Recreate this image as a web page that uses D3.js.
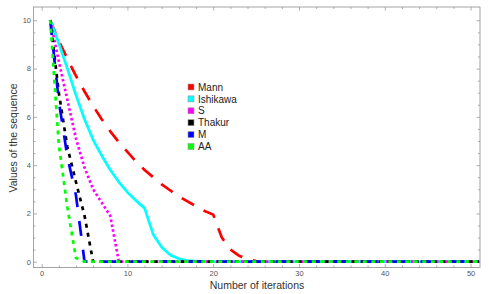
<!DOCTYPE html>
<html>
<head>
<meta charset="utf-8">
<script src="https://cdn.jsdelivr.net/npm/d3@7"></script>
<style>
  body { margin: 0; background: #fff; }
  svg { display: block; font-family: "Liberation Sans", Arial, sans-serif; }
</style>
</head>
<body>
<div class="container"></div>
<script>
// iterations 1..51
var iterations = d3.range(1, 52);

var mann = [10, 9.15, 8.4, 7.7, 7.05, 6.45, 5.9, 5.4, 4.95, 4.55,
	4.15, 3.8, 3.5, 3.2, 2.95, 2.7, 2.5, 2.3, 2.1, 1.95,
	1.0, 0.5, 0.25, 0.1, 0.03, 0, 0, 0, 0, 0,
	0, 0, 0, 0, 0, 0, 0, 0, 0, 0,
	0, 0, 0, 0, 0, 0, 0, 0, 0, 0, 0];
var ishikawa = [10, 9.05, 8.0, 6.9, 5.9, 5.05, 4.4, 3.8, 3.3, 2.88,
	2.53, 2.22, 1.13, 0.6, 0.28, 0.12, 0.05, 0.02, 0.01, 0,
	0, 0, 0, 0, 0, 0, 0, 0, 0, 0,
	0, 0, 0, 0, 0, 0, 0, 0, 0, 0,
	0, 0, 0, 0, 0, 0, 0, 0, 0, 0, 0];
var sIter = [10, 8.3, 6.7, 5.1, 3.9, 3.0, 2.45, 1.9, 0, 0,
	0, 0, 0, 0, 0, 0, 0, 0, 0, 0,
	0, 0, 0, 0, 0, 0, 0, 0, 0, 0,
	0, 0, 0, 0, 0, 0, 0, 0, 0, 0,
	0, 0, 0, 0, 0, 0, 0, 0, 0, 0, 0];
var thakur = [10, 7.0, 4.75, 3.3, 1.9, 0, 0, 0, 0, 0,
	0, 0, 0, 0, 0, 0, 0, 0, 0, 0,
	0, 0, 0, 0, 0, 0, 0, 0, 0, 0,
	0, 0, 0, 0, 0, 0, 0, 0, 0, 0,
	0, 0, 0, 0, 0, 0, 0, 0, 0, 0, 0];
var mIter = [10, 6.65, 4.35, 2.75, 0, 0, 0, 0, 0, 0,
	0, 0, 0, 0, 0, 0, 0, 0, 0, 0,
	0, 0, 0, 0, 0, 0, 0, 0, 0, 0,
	0, 0, 0, 0, 0, 0, 0, 0, 0, 0,
	0, 0, 0, 0, 0, 0, 0, 0, 0, 0, 0];
var aa = [10, 4.85, 2.25, 0.15, 0, 0, 0, 0, 0, 0,
	0, 0, 0, 0, 0, 0, 0, 0, 0, 0,
	0, 0, 0, 0, 0, 0, 0, 0, 0, 0,
	0, 0, 0, 0, 0, 0, 0, 0, 0, 0,
	0, 0, 0, 0, 0, 0, 0, 0, 0, 0, 0];

var seriesNames = ['Mann', 'Ishikawa', 'S', 'Thakur', 'M', 'AA'];
var seriesValues = [mann, ishikawa, sIter, thakur, mIter, aa];
var seriesColors = ['#ff0000', '#00ffff', '#ff00ff', '#000000', '#0000ff', '#00ff00'];
var seriesDash = ['14,11', null, '2.5,2.5', '4,5', '15,14', '4,4.5'];

var xMajor = [0, 10, 20, 30, 40, 50];
var xMinor = [2, 4, 6, 8, 12, 14, 16, 18, 22, 24, 26, 28, 32, 34, 36, 38, 42, 44, 46, 48];
var yMajor = [0, 2, 4, 6, 8, 10];
var yMinor = [0.5, 1, 1.5, 2.5, 3, 3.5, 4.5, 5, 5.5, 6.5, 7, 7.5, 8.5, 9, 9.5];

var W = 489, H = 294;
var plotLeft = 33.5, plotRight = 480, plotTop = 7, plotBottom = 267.5;

var svg = d3.select('.container').append('svg')
	.attr('width', W)
	.attr('height', H);

var x = d3.scaleLinear().domain([-0.95, 51.1]).range([plotLeft, plotRight]);
var y = d3.scaleLinear().domain([-0.24, 10.55]).range([plotBottom, plotTop]);

var frameColor = '#9a9a9a';
var labelColor = '#555';

function styleAxis(g) {
	g.select('.domain').remove();
	g.selectAll('line').attr('stroke', frameColor).attr('stroke-width', 0.8);
	g.selectAll('text').attr('fill', labelColor).style('font-size', '7.5px')
		.style('font-family', '"Liberation Sans", Arial, sans-serif');
}

// ticks point inward, like Mathematica frame ticks
// bottom
svg.append('g').attr('transform', 'translate(0,' + plotBottom + ')')
	.call(d3.axisBottom(x).tickValues(xMajor).tickSize(-3.5).tickPadding(3.5).tickFormat(d3.format('d')))
	.call(styleAxis);
svg.append('g').attr('transform', 'translate(0,' + plotBottom + ')')
	.call(d3.axisBottom(x).tickValues(xMinor).tickSize(-2).tickFormat(''))
	.call(styleAxis);
// top
svg.append('g').attr('transform', 'translate(0,' + plotTop + ')')
	.call(d3.axisTop(x).tickValues(xMajor).tickSize(-3.5).tickFormat(''))
	.call(styleAxis);
svg.append('g').attr('transform', 'translate(0,' + plotTop + ')')
	.call(d3.axisTop(x).tickValues(xMinor).tickSize(-2).tickFormat(''))
	.call(styleAxis);
// left
svg.append('g').attr('transform', 'translate(' + plotLeft + ',0)')
	.call(d3.axisLeft(y).tickValues(yMajor).tickSize(-3.5).tickPadding(2.5).tickFormat(d3.format('d')))
	.call(styleAxis);
svg.append('g').attr('transform', 'translate(' + plotLeft + ',0)')
	.call(d3.axisLeft(y).tickValues(yMinor).tickSize(-2).tickFormat(''))
	.call(styleAxis);
// right
svg.append('g').attr('transform', 'translate(' + plotRight + ',0)')
	.call(d3.axisRight(y).tickValues(yMajor).tickSize(-3.5).tickFormat(''))
	.call(styleAxis);
svg.append('g').attr('transform', 'translate(' + plotRight + ',0)')
	.call(d3.axisRight(y).tickValues(yMinor).tickSize(-2).tickFormat(''))
	.call(styleAxis);

// frame
svg.append('rect')
	.attr('x', plotLeft).attr('y', plotTop)
	.attr('width', plotRight - plotLeft).attr('height', plotBottom - plotTop)
	.attr('fill', 'none')
	.attr('stroke', frameColor)
	.attr('stroke-width', 0.9);

svg.append('clipPath').attr('id', 'plotclip')
	.append('rect')
	.attr('x', plotLeft).attr('y', plotTop)
	.attr('width', plotRight - plotLeft).attr('height', plotBottom - plotTop);

var line = d3.line()
	.x(function(d, i) { return x(iterations[i]); })
	.y(function(d) { return y(d); });

svg.append('g').attr('clip-path', 'url(#plotclip)')
	.selectAll('path')
	.data(seriesValues)
	.enter().append('path')
	.attr('d', line)
	.attr('fill', 'none')
	.attr('stroke', function(d, i) { return seriesColors[i]; })
	.attr('stroke-width', 2.7)
	.attr('stroke-linejoin', 'round')
	.attr('stroke-dasharray', function(d, i) { return seriesDash[i]; });

// axis titles
svg.append('text')
	.attr('x', 257)
	.attr('y', 289)
	.attr('text-anchor', 'middle')
	.attr('fill', '#333')
	.style('font-size', '10.5px')
	.text('Number of iterations');

svg.append('text')
	.attr('transform', 'translate(17,138) rotate(-90)')
	.attr('text-anchor', 'middle')
	.attr('fill', '#333')
	.style('font-size', '10.5px')
	.text('Values of the sequence');

// legend
var legend = svg.append('g').attr('transform', 'translate(188,84)');
var item = legend.selectAll('g')
	.data(seriesNames)
	.enter().append('g')
	.attr('transform', function(d, i) { return 'translate(0,' + (i * 11.9) + ')'; });
item.append('rect')
	.attr('width', 6).attr('height', 6)
	.attr('fill', function(d, i) { return seriesColors[i]; })
	.attr('stroke', '#999')
	.attr('stroke-width', 0.6);
item.append('text')
	.attr('x', 10)
	.attr('y', 6.6)
	.attr('fill', '#222')
	.style('font-size', '10px')
	.text(function(d) { return d; });
</script>
</body>
</html>
